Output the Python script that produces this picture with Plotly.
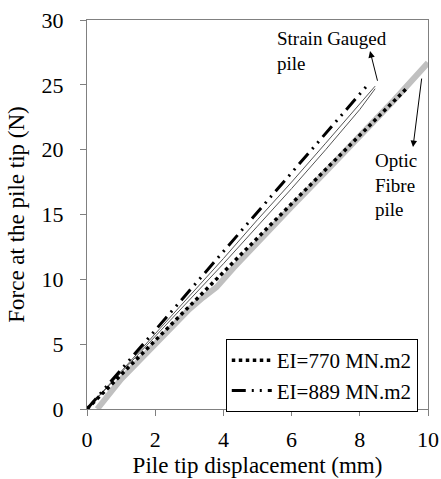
import plotly.graph_objects as go

# Measured: optic fibre pile (grey thick)
of_x = [0.3, 1.0, 2.0, 3.0, 3.4, 3.8, 4.3, 5.0, 6.0, 7.0, 8.0, 9.0, 10.0]
of_y = [0.0, 2.3, 5.0, 7.7, 8.6, 9.4, 10.9, 12.9, 15.6, 18.3, 21.0, 23.8, 26.7]

# Measured: strain gauged pile (two thin lines)
sg1_x = [0.0, 1.0, 2.0, 3.0, 4.0, 5.0, 6.0, 7.0, 8.0, 8.45]
sg1_y = [0.0, 2.9, 5.8, 8.7, 11.6, 14.6, 17.5, 20.5, 23.5, 24.9]
sg2_x = [0.0, 1.0, 2.0, 3.0, 4.0, 5.0, 6.0, 7.0, 8.0, 8.45]
sg2_y = [0.0, 2.8, 5.6, 8.4, 11.2, 14.1, 17.0, 20.0, 23.1, 24.7]

# Models
ei770_x = [0.0, 9.4]
ei770_y = [0.0, 24.8]
ei889_x = [0.0, 8.2]
ei889_y = [0.0, 24.9]

x_ticks = [0, 2, 4, 6, 8, 10]
y_ticks = [0, 5, 10, 15, 20, 25, 30]

FONT = "Liberation Serif"

fig = go.Figure()
fig.add_trace(go.Scatter(x=of_x, y=of_y, mode="lines", line=dict(color="#c0c0c0", width=6),
                         showlegend=False, hoverinfo="skip"))
fig.add_trace(go.Scatter(x=sg1_x, y=sg1_y, mode="lines", line=dict(color="#555555", width=1),
                         showlegend=False))
fig.add_trace(go.Scatter(x=sg2_x, y=sg2_y, mode="lines", line=dict(color="#555555", width=1),
                         showlegend=False))
fig.add_trace(go.Scatter(x=ei770_x, y=ei770_y, mode="lines", name="EI=770 MN.m2",
                         line=dict(color="black", width=3.5, dash="3.5px,3.5px")))
fig.add_trace(go.Scatter(x=ei889_x, y=ei889_y, mode="lines", name="EI=889 MN.m2",
                         line=dict(color="black", width=3, dash="14px,6px,2px,6px,2px,6px")))

fig.add_annotation(x=5.5, y=29.5, xref="x", yref="y", text="Strain Gauged<br>pile",
                   showarrow=False, xanchor="left", yanchor="top", align="left",
                   font=dict(family=FONT, size=19, color="black"))
fig.add_annotation(x=8.4, y=20.1, xref="x", yref="y", text="Optic<br>Fibre<br>pile",
                   showarrow=False, xanchor="left", yanchor="top", align="left",
                   font=dict(family=FONT, size=19, color="black"))
fig.add_annotation(x=8.3, y=27.6, ax=8.53, ay=25.2, xref="x", yref="y", axref="x", ayref="y",
                   text="", showarrow=True, arrowhead=2, arrowsize=1.3, arrowwidth=1, arrowcolor="black")
fig.add_annotation(x=9.56, y=20.2, ax=9.82, ay=25.6, xref="x", yref="y", axref="x", ayref="y",
                   text="", showarrow=True, arrowhead=2, arrowsize=1.3, arrowwidth=1, arrowcolor="black")

axis_common = dict(showgrid=False, zeroline=False, showline=True, linecolor="#808080", linewidth=1,
                   ticks="outside", ticklen=6, tickcolor="#808080", mirror=True, automargin=False,
                   ticklabeloverflow="allow",
                   tickfont=dict(family=FONT, size=22, color="black"))
fig.update_xaxes(range=[0, 10], tickvals=x_ticks, ticklabelstandoff=5,
                 title=dict(text="Pile tip displacement (mm)", font=dict(family=FONT, size=23, color="black"),
                            standoff=5), **axis_common)
fig.update_yaxes(range=[0, 30], tickvals=y_ticks, ticklabelstandoff=12,
                 title=dict(text="Force at the pile tip (N)", font=dict(family=FONT, size=23, color="black"),
                            standoff=10), **axis_common)

fig.update_layout(width=441, height=479, margin=dict(l=87, r=13, t=20, b=70),
                  plot_bgcolor="white", paper_bgcolor="white",
                  font=dict(family=FONT, color="black"),
                  legend=dict(x=0.97, y=0.086, xanchor="right", yanchor="middle",
                              bordercolor="black", borderwidth=1, bgcolor="white",
                              font=dict(family=FONT, size=21, color="black"),
                              tracegroupgap=0, itemwidth=40))

fig.write_html("out.html", config={"displayModeBar": False},
               post_script="document.body.style.margin='0';document.body.style.overflow='hidden';")
